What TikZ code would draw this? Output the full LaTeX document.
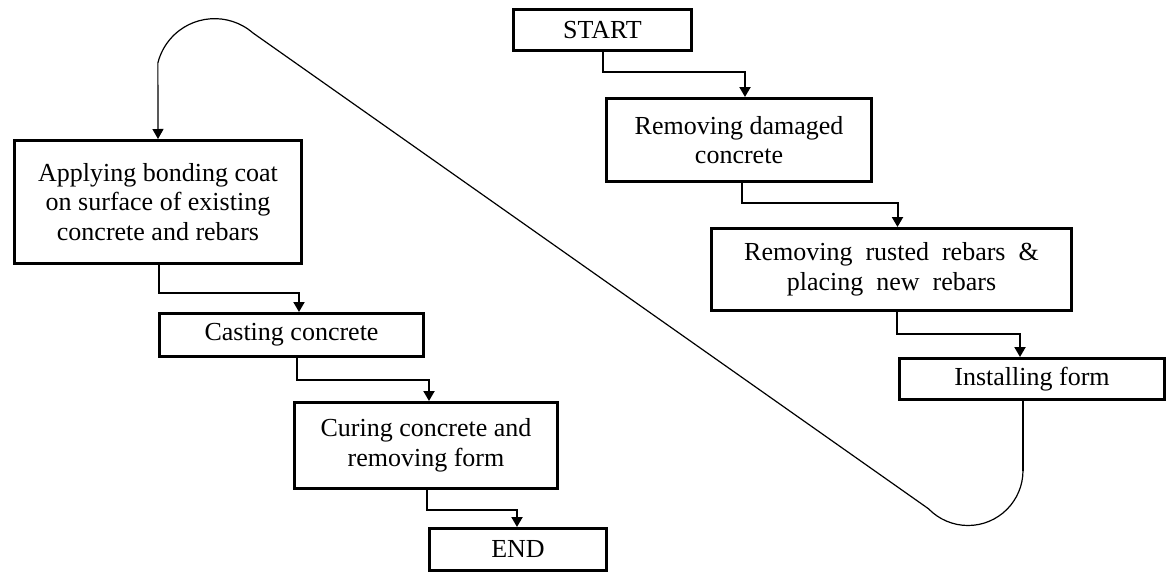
\documentclass[tikz,border=0pt]{standalone}
\usepackage{fontspec}
\setmainfont{Liberation Serif}
\usetikzlibrary{arrows.meta}
\newcommand{\wsp}{\hspace{13pt}}
\begin{document}
\begin{tikzpicture}[x=1pt,y=-1pt,
  stepbox/.style={draw,line width=3pt,align=center,inner sep=0pt,
    font=\fontsize{26}{29.5}\selectfont},
  tip/.style={-{Triangle[width=11pt,length=10pt]}},
  flow/.style={line width=2pt,tip},
  loopline/.style={line width=1.2pt}]
\useasboundingbox (0,0) rectangle (1168,573);

% right-hand column
\node[stepbox,minimum width=178pt,minimum height=41pt] (start) at (602.5,30) {START};
\node[stepbox,minimum width=265pt,minimum height=83pt] (dmg) at (739,140)
  {Removing damaged\\concrete};
\node[stepbox,minimum width=360pt,minimum height=82pt] (rebar) at (891.5,269.5)
  {Removing\wsp rusted\wsp rebars\wsp\&\\placing\wsp new\wsp rebars};
\node[stepbox,minimum width=265pt,minimum height=41pt] (form) at (1032,379) {Installing form};

% left-hand column
\node[stepbox,minimum width=287pt,minimum height=123pt] (bond) at (158,202)
  {Applying bonding coat\\on surface of existing\\concrete and rebars};
\node[stepbox,minimum width=264pt,minimum height=43pt] (cast) at (291.5,335) {Casting concrete};
\node[stepbox,minimum width=263pt,minimum height=86pt] (cure) at (426,445.5)
  {Curing concrete and\\removing form};
\node[stepbox,minimum width=177pt,minimum height=42pt] (end) at (518,549.5) {END};

% elbow connectors
\draw[flow] (start.south) -- ++(0,19.5) -| ([xshift=6pt]dmg.north);
\draw[flow] ([xshift=3pt]dmg.south) -- ++(0,19.5) -| ([xshift=6pt]rebar.north);
\draw[flow] ([xshift=5.5pt]rebar.south) -- ++(0,21.5) -| ([xshift=-12pt]form.north);
\draw[flow] ([xshift=1pt]bond.south) -- ++(0,27.5) -| ([xshift=7.5pt]cast.north);
\draw[flow] ([xshift=5.5pt]cast.south) -- ++(0,21.5) -| ([xshift=3pt]cure.north);
\draw[flow] ([xshift=1pt]cure.south) -- ++(0,19.5) -| ([xshift=-1pt]end.north);

% long return line from the right column to the left column
\draw[line width=2pt] ([xshift=-9pt]form.south) -- ++(0,69.5) coordinate (loopA);
\coordinate (loopB) at (253,33);
\draw[loopline,tip] (loopA)
  arc[start angle=0,end angle=136,radius=55] -- (loopB)
  arc[start angle=-49,end angle=-166,radius=58.5] -- (bond.north);
\end{tikzpicture}
\end{document}
